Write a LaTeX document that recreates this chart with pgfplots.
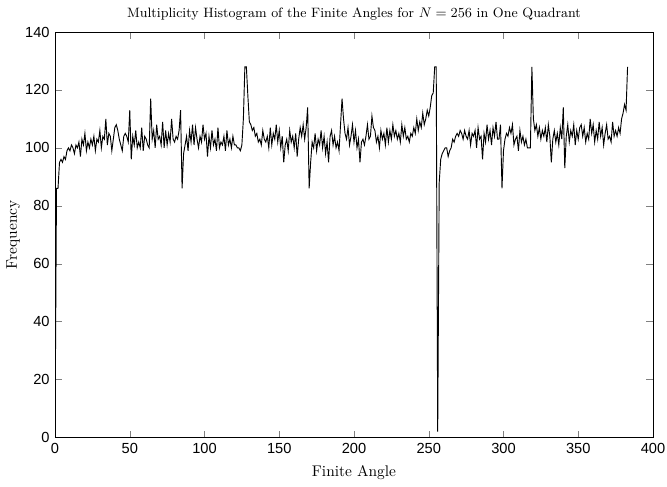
\documentclass[border=0pt]{standalone}
\usepackage{fontspec}
\usepackage{pgfplots}
\pgfplotsset{compat=1.18}
\newfontfamily\tickfont{Liberation Sans}
\begin{document}
\begin{tikzpicture}
\begin{axis}[
  width=388pt, height=263pt, scale only axis,
  xmin=0, xmax=400, ymin=0, ymax=140,
  xtick={0,50,...,400}, ytick={0,20,...,140},
  tick align=inside,
  tick label style={font=\tickfont\fontsize{9.5}{11}\selectfont},
  /pgf/number format/assume math mode=true,
  title={Multiplicity Histogram of the Finite Angles for $N=256$ in One Quadrant},
  title style={font=\fontsize{8.8}{11}\selectfont, yshift=-2pt},
  xlabel={Finite Angle}, ylabel={Frequency},
  xlabel style={yshift=-1pt},
  ylabel style={yshift=-3.5pt},
  axis line style={line width=0.5pt},
]
\addplot[black, line width=0.6pt, mark=none] coordinates {
(0,1)(1,86)(2,86)(3,95)(4,96)(5,95)(6,97)(7,96)(8,99)(9,100)(10,99)(11,101)(12,100)(13,98)(14,101)(15,100)
(16,102)(17,97)(18,103)(19,101)(20,105)(21,99)(22,102)(23,100)(24,103)(25,101)(26,104)(27,99)(28,103)(29,102)(30,106)(31,100)
(32,104)(33,103)(34,110)(35,101)(36,105)(37,104)(38,99)(39,103)(40,107)(41,108)(42,106)(43,103)(44,101)(45,99)(46,104)(47,105)
(48,104)(49,102)(50,113)(51,96)(52,104)(53,101)(54,106)(55,100)(56,102)(57,100)(58,107)(59,99)(60,104)(61,103)(62,101)(63,100)
(64,117)(65,103)(66,106)(67,100)(68,108)(69,103)(70,104)(71,101)(72,109)(73,100)(74,106)(75,101)(76,105)(77,102)(78,110)(79,103)
(80,102)(81,104)(82,103)(83,106)(84,113)(85,86)(86,98)(87,101)(88,104)(89,99)(90,106)(91,102)(92,108)(93,101)(94,107)(95,103)
(96,100)(97,104)(98,102)(99,108)(100,103)(101,105)(102,97)(103,104)(104,100)(105,106)(106,101)(107,103)(108,99)(109,107)(110,100)(111,102)
(112,101)(113,104)(114,99)(115,106)(116,101)(117,103)(118,100)(119,104)(120,101)(121,101)(122,100)(123,100)(124,99)(125,101)(126,110)(127,128)
(128,128)(129,118)(130,109)(131,108)(132,106)(133,107)(134,104)(135,105)(136,102)(137,103)(138,101)(139,106)(140,103)(141,102)(142,104)(143,100)
(144,107)(145,101)(146,105)(147,103)(148,108)(149,102)(150,106)(151,100)(152,104)(153,95)(154,101)(155,103)(156,99)(157,106)(158,102)(159,104)
(160,100)(161,105)(162,97)(163,103)(164,107)(165,104)(166,108)(167,103)(168,107)(169,114)(170,86)(171,95)(172,102)(173,100)(174,105)(175,99)
(176,103)(177,101)(178,106)(179,100)(180,104)(181,98)(182,102)(183,95)(184,104)(185,106)(186,101)(187,104)(188,100)(189,102)(190,99)(191,108)
(192,117)(193,110)(194,105)(195,103)(196,107)(197,101)(198,104)(199,108)(200,102)(201,106)(202,100)(203,103)(204,95)(205,102)(206,103)(207,101)
(208,104)(209,108)(210,103)(211,104)(212,111)(213,107)(214,106)(215,102)(216,104)(217,100)(218,106)(219,103)(220,105)(221,101)(222,107)(223,102)
(224,106)(225,103)(226,108)(227,104)(228,106)(229,103)(230,105)(231,102)(232,108)(233,104)(234,107)(235,103)(236,104)(237,102)(238,105)(239,104)
(240,107)(241,105)(242,110)(243,106)(244,109)(245,107)(246,112)(247,108)(248,110)(249,113)(250,111)(251,114)(252,118)(253,119)(254,128)(255,128)
(256,2)(257,88)(258,96)(259,98)(260,99)(261,100)(262,100)(263,97)(264,99)(265,100)(266,103)(267,102)(268,104)(269,105)(270,104)(271,106)
(272,105)(273,103)(274,106)(275,104)(276,103)(277,106)(278,101)(279,105)(280,104)(281,106)(282,100)(283,107)(284,103)(285,104)(286,96)(287,105)
(288,102)(289,108)(290,103)(291,106)(292,101)(293,107)(294,104)(295,109)(296,103)(297,103)(298,108)(299,86)(300,99)(301,103)(302,105)(303,104)
(304,107)(305,105)(306,108)(307,101)(308,103)(309,104)(310,99)(311,106)(312,102)(313,104)(314,101)(315,103)(316,100)(317,100)(318,100)(319,128)
(320,110)(321,106)(322,108)(323,104)(324,107)(325,103)(326,106)(327,104)(328,107)(329,102)(330,108)(331,104)(332,95)(333,103)(334,106)(335,102)
(336,105)(337,101)(338,107)(339,103)(340,114)(341,93)(342,104)(343,108)(344,102)(345,106)(346,104)(347,108)(348,101)(349,106)(350,103)(351,107)
(352,108)(353,104)(354,107)(355,102)(356,105)(357,103)(358,110)(359,105)(360,108)(361,102)(362,106)(363,103)(364,109)(365,104)(366,107)(367,101)
(368,105)(369,108)(370,103)(371,104)(372,102)(373,109)(374,104)(375,106)(376,104)(377,107)(378,105)(379,110)(380,112)(381,115)(382,113)(383,128)
};
\coordinate (sw) at (rel axis cs:0,0);
\coordinate (ne) at (rel axis cs:1,1);
\end{axis}
\pgfresetboundingbox
\path ([shift={(-35.7pt,-31.8pt)}]sw) rectangle ([shift={(9.1pt,20.8pt)}]ne);
\end{tikzpicture}
\end{document}
